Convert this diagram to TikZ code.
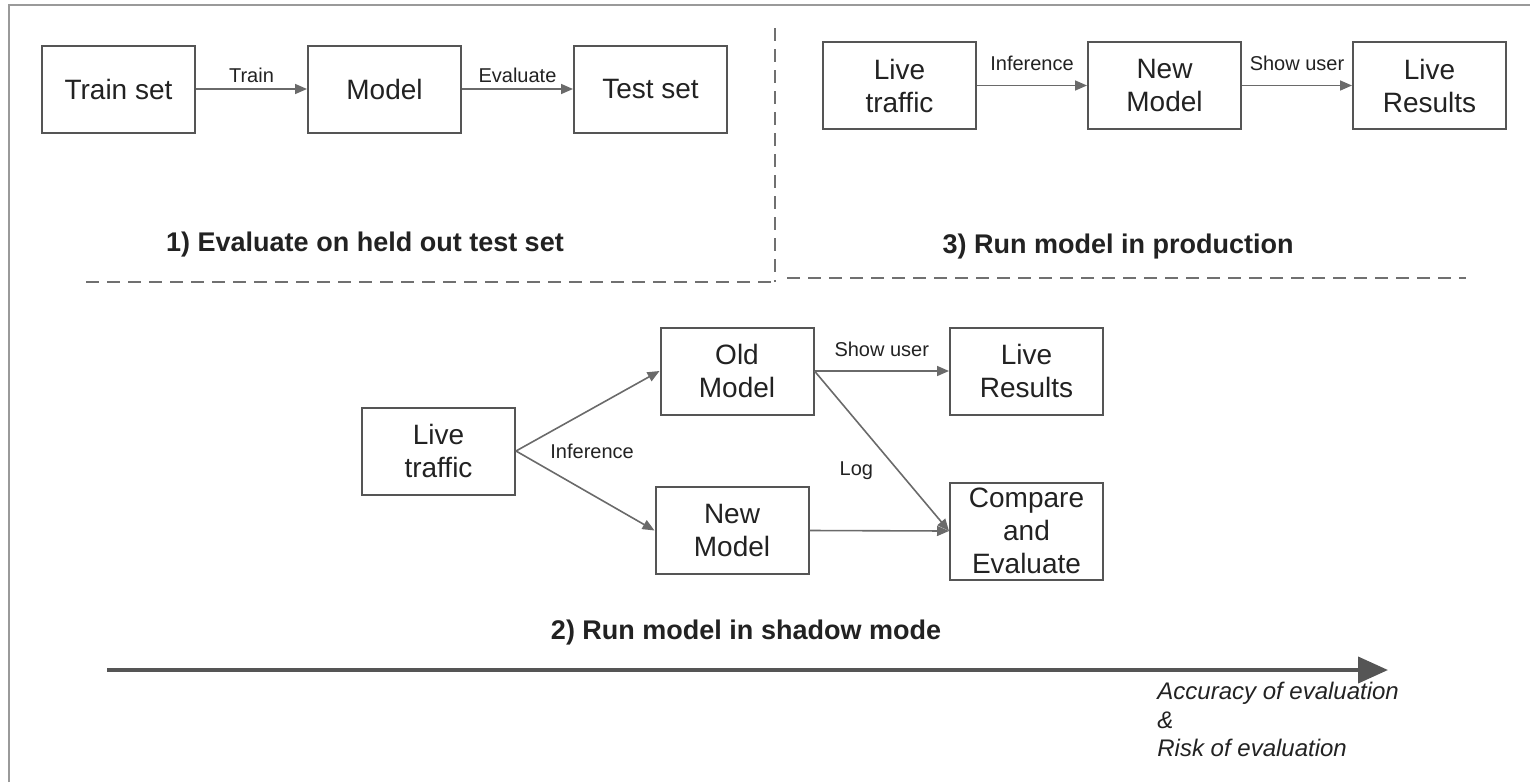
\documentclass[tikz,border=0pt]{standalone}
\usepackage{fontspec}
\setmainfont{Liberation Sans}
\usetikzlibrary{positioning}
\usetikzlibrary{arrows.meta}
\definecolor{framegray}{HTML}{9A9A9A}
\definecolor{linegray}{HTML}{555555}
\definecolor{arrowgray}{HTML}{6A6A6A}
\definecolor{dashgray}{HTML}{707070}
\definecolor{txtgray}{HTML}{222222}
\newcommand{\boxfont}{\fontsize{14}{16.5}\selectfont}
\newcommand{\labfont}{\fontsize{10}{12}\selectfont}
\newcommand{\titlefont}{\fontsize{13.5}{16}\selectfont\bfseries}
\newcommand{\axisfont}{\fontsize{12}{14.2}\selectfont\itshape}

\begin{document}
\begin{tikzpicture}[x=0.5pt, y=-0.5pt,
  stage/.style={draw=linegray, line width=1pt, minimum width=76.5pt, minimum height=43.5pt,
                inner sep=0pt, align=center, font=\boxfont, text=txtgray},
  flow/.style={draw=arrowgray, line width=0.8pt, -{Triangle[length=6pt,width=5pt]}},
  lab/.style={font=\labfont, text=txtgray, inner sep=1pt},
  heading/.style={font=\titlefont, text=txtgray},
  divider/.style={draw=dashgray, line width=1pt, dash pattern=on 6.5pt off 4pt},
  node distance=55.5pt]
%\draw [help lines] (0,0) grid (1530,782);
\useasboundingbox (0,0) rectangle (1530,782);

% Frame
\draw[framegray, line width=1pt] (9,782) -- (9,5) -- (1530,5);

% Dividers
\draw[divider] (86,282) -- (775,282);
\draw[divider] (775,28) -- (775,282);
\draw[divider] (787,278) -- (1466,278);

% 1) held out test set
\node[stage] (train) at (118.5,89)            {Train set};
\node[stage, right = of train]      (model)    {Model};
\node[stage, right = of model]      (test)     {Test set};
\node[heading] (t1) at (365,245)              {1) Evaluate on held out test set};

% 3) production
\node[stage] (plive) at (899.5,85.5)          {Live\\traffic};
\node[stage, right = 55pt of plive] (pnew)     {New\\Model};
\node[stage, right = 55pt of pnew]  (pres)     {Live\\Results};
\node[heading] (t3) at (1118,247)             {3) Run model in production};

% 2) shadow mode
\node[stage] (slive) at (438.5,451)           {Live\\traffic};
\node[stage] (sold)  at (737,371)             {Old\\Model};
\node[stage] (snew)  at (732,530.5)           {New\\Model};
\node[stage] (sres)  at (1026.5,371)          {Live\\Results};
\node[stage, minimum height=48.5pt] (scmp) at (1026.5,531) {Compare\\and\\Evaluate};
\node[lab, right = 16pt of slive.east] (sinf) {Inference};
\node[heading] (t2) at (746,633)              {2) Run model in shadow mode};

% Edges
\draw[flow] (train) -- node[lab, above=2pt] {Train} (model);
\draw[flow] (model) -- node[lab, above=2pt] {Evaluate} (test);
\draw[flow] (plive) -- node[lab, above=6pt] {Inference} (pnew);
\draw[flow] (pnew)  -- node[lab, above=6pt] {Show user} (pres);
\draw[flow] (slive.east) -- (sold.west);
\draw[flow] (slive.east) -- (snew.west);
\draw[flow] (sold.east) -- node[lab, above=6pt] {Show user} (sres.west);
\draw[flow] (sold.east) -- node[lab, pos=0.62, left=11pt] {Log} (scmp.west);
\draw[flow] (snew.east) -- (scmp.west);

% Axis
\coordinate (axs) at (107,670);
\coordinate (axe) at (1388,670);
\draw[draw=linegray, line width=2pt, -{Triangle[length=15pt,width=13pt]}] (axs) -- (axe);
\node[font=\axisfont, text=txtgray, align=left, anchor=north west, inner sep=0pt]
  (axlab) at (1157,682) {Accuracy of evaluation\\\&\\Risk of evaluation};
\end{tikzpicture}
\end{document}
